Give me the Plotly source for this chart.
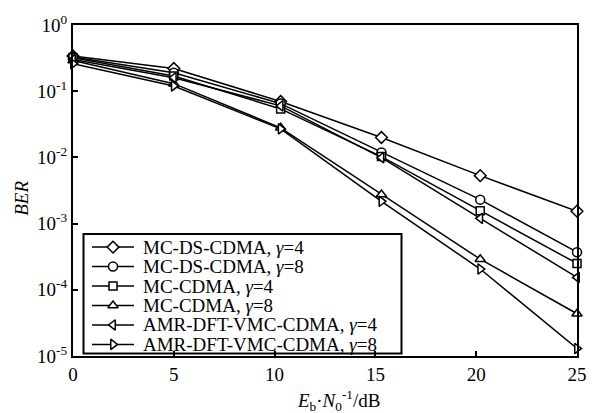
import plotly.graph_objects as go

# Eb/N0 points (dB)
snr_db = [0, 5, 10.3, 15.3, 20.2, 25]

# BER curves
ber_mcds_g4 = [0.34, 0.22, 0.070, 0.0200, 0.00530, 0.00154]
ber_mcds_g8 = [0.33, 0.19, 0.065, 0.0119, 0.00230, 0.00037]
ber_mc_g4 = [0.32, 0.17, 0.054, 0.0103, 0.00157, 0.00025]
ber_mc_g8 = [0.29, 0.13, 0.028, 0.00275, 0.00029, 0.0000435]
ber_amr_g4 = [0.30, 0.16, 0.060, 0.0099, 0.00120, 0.000154]
ber_amr_g8 = [0.26, 0.12, 0.027, 0.00217, 0.000206, 0.000013]

series_names = [
    "MC-DS-CDMA, <i>γ</i>=4",
    "MC-DS-CDMA, <i>γ</i>=8",
    "MC-CDMA, <i>γ</i>=4",
    "MC-CDMA, <i>γ</i>=8",
    "AMR-DFT-VMC-CDMA, <i>γ</i>=4",
    "AMR-DFT-VMC-CDMA, <i>γ</i>=8",
]
series_values = [ber_mcds_g4, ber_mcds_g8, ber_mc_g4, ber_mc_g8, ber_amr_g4, ber_amr_g8]
series_symbols = ["diamond", "circle", "square", "triangle-up", "triangle-left", "triangle-right"]
symbol_sizes = [9, 9, 8, 9, 9, 9]

x_ticks = [0, 5, 10, 15, 20, 25]
y_ticks = [1, 1e-1, 1e-2, 1e-3, 1e-4, 1e-5]
y_ticktext = ["10<sup>0</sup>", "10<sup>-1</sup>", "10<sup>-2</sup>",
              "10<sup>-3</sup>", "10<sup>-4</sup>", "10<sup>-5</sup>"]

FONT = "Liberation Serif, Times New Roman, serif"
W, H = 609, 413
ML, MR, MT, MB = 73, 32, 14, 57
PL, PR, PT, PB = ML, W - MR, MT, H - MB

fig = go.Figure()

for name, vals, sym, sz in zip(series_names, series_values, series_symbols, symbol_sizes):
    fig.add_trace(go.Scatter(
        x=snr_db, y=vals, mode="lines+markers", name=name,
        line=dict(color="black", width=1.5),
        marker=dict(symbol=sym, size=sz, color="white",
                    line=dict(color="black", width=1.5)),
        cliponaxis=False, showlegend=False,
    ))

# Hand-built legend box on a pixel-space overlay axis
LEG_X0, LEG_X1, LEG_Y0, LEG_Y1 = 83.5, 401.5, 230, 353.5
ROW0, ROW_STEP = 243.5, 20.1
SAMPLE_X = [92, 134]
MARK_X = 113
TEXT_X = 141

fig.add_shape(type="rect", xref="x2", yref="y2",
              x0=LEG_X0, x1=LEG_X1, y0=LEG_Y0, y1=LEG_Y1,
              line=dict(color="black", width=2), fillcolor="white", layer="below")

for i, (name, sym, sz) in enumerate(zip(series_names, series_symbols, symbol_sizes)):
    ry = ROW0 + i * ROW_STEP
    fig.add_trace(go.Scatter(
        x=SAMPLE_X, y=[ry, ry], xaxis="x2", yaxis="y2", mode="lines",
        line=dict(color="black", width=1.5), showlegend=False, hoverinfo="skip",
    ))
    fig.add_trace(go.Scatter(
        x=[MARK_X], y=[ry], xaxis="x2", yaxis="y2", mode="markers",
        marker=dict(symbol=sym, size=sz, color="white",
                    line=dict(color="black", width=1.5)),
        showlegend=False, hoverinfo="skip",
    ))
    fig.add_annotation(x=TEXT_X, y=ry, xref="x2", yref="y2", text=name,
                       showarrow=False, xanchor="left", yanchor="middle",
                       font=dict(family=FONT, size=19, color="black"))

axis_common = dict(showgrid=False, zeroline=False, showline=True, linecolor="black",
                   linewidth=2, mirror=True, ticks="inside", ticklen=5, tickwidth=1.5,
                   tickcolor="black", tickfont=dict(family=FONT, size=19, color="black"))

fig.update_layout(
    width=W, height=H,
    margin=dict(l=ML, r=MR, t=MT, b=MB),
    paper_bgcolor="white", plot_bgcolor="white",
    xaxis=dict(range=[0, 25], tickvals=x_ticks, ticktext=[str(v) for v in x_ticks],
               **axis_common),
    yaxis=dict(type="log", range=[-5, 0], tickvals=y_ticks, ticktext=y_ticktext,
               **axis_common),
    xaxis2=dict(range=[PL, PR], overlaying="x", visible=False, anchor="y2"),
    yaxis2=dict(range=[PB, PT], overlaying="y", visible=False, anchor="x2"),
    showlegend=False,
)

# Axis titles
fig.add_annotation(
    xref="paper", yref="paper", x=(338 - PL) / (PR - PL), y=-(402 - PB) / (PB - PT),
    text="<i>E</i><sub>b</sub>·<i>N</i><sub>0</sub><sup>-1</sup>/dB",
    showarrow=False, xanchor="center", yanchor="middle",
    font=dict(family=FONT, size=19, color="black"))
fig.add_annotation(
    xref="paper", yref="paper", x=(21.5 - PL) / (PR - PL), y=(PB - 193) / (PB - PT),
    text="<i>BER</i>", textangle=-90,
    showarrow=False, xanchor="center", yanchor="middle",
    font=dict(family=FONT, size=19, color="black"))

fig.write_html("out.html")
